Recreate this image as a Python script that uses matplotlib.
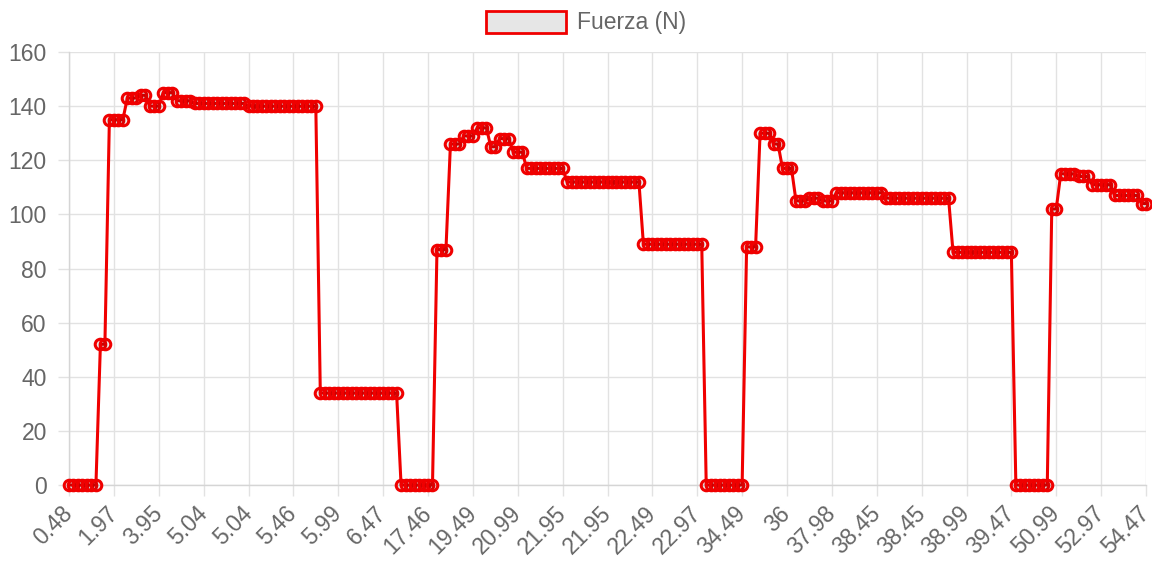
import matplotlib
matplotlib.use("Agg")
import matplotlib.pyplot as plt
from matplotlib.patches import Rectangle
import numpy as np

# Tick labels (time, s) shown every 10 samples along the category axis
tick_labels = ["0.48", "1.97", "3.95", "5.04", "5.04", "5.46", "5.99", "6.47",
               "17.46", "19.49", "20.99", "21.95", "21.95", "22.49", "22.97",
               "34.49", "36", "37.98", "38.45", "38.45", "38.99", "39.47",
               "50.99", "52.97", "54.47"]
label_step = 10

# Force readings (N), stored as held levels and how many samples each lasts
force_levels = [0, 52, 135, 143, 144, 140, 145, 142, 141, 140,
                34, 0,
                87, 126, 129, 132, 125, 128, 123, 117, 112, 89,
                0,
                88, 130, 126, 117, 105, 106, 105, 108, 106, 86,
                0,
                102, 115, 114, 111, 107, 104]
samples_per_level = [7, 2, 4, 3, 2, 3, 3, 4, 12, 16,
                     18, 8,
                     3, 3, 3, 3, 2, 3, 3, 9, 17, 14,
                     9,
                     3, 3, 2, 3, 3, 3, 3, 11, 15, 14,
                     8,
                     2, 4, 3, 5, 6, 2]

fuerza = np.repeat(force_levels, samples_per_level)
idx = np.arange(len(fuerza))

RED = "#f00000"
GRID = "#e2e2e2"
TXT = "#666666"
FS = 16.5

plt.rcParams["font.family"] = ["Liberation Sans", "DejaVu Sans"]

fig = plt.figure(figsize=(11.52, 5.65), dpi=100)
W, H = 1152, 565
left, right, top, bottom = 69, 1146, 52, 485
ax = fig.add_axes([left / W, 1 - bottom / H, (right - left) / W, (bottom - top) / H])

ax.plot(idx, fuerza, color=RED, lw=2.2, marker="o", ms=7.6,
        mfc=(0, 0, 0, 0.08), mec=RED, mew=2.2, zorder=3, clip_on=False)

ax.set_xlim(0, len(fuerza) - 1)
ax.set_ylim(0, 160)
ax.set_yticks(np.arange(0, 161, 20))
tick_pos = np.arange(len(tick_labels)) * label_step
ax.set_xticks(tick_pos)
ax.set_xticklabels(tick_labels, rotation=45, ha="right", va="center",
                   rotation_mode="anchor")

ax.grid(True, color=GRID, lw=1.0)
ax.set_axisbelow(True)
for s in ("top", "right"):
    ax.spines[s].set_visible(False)
for s in ("left", "bottom"):
    ax.spines[s].set_color("#d5d5d5")
    ax.spines[s].set_linewidth(1.0)
ax.tick_params(axis="both", colors=GRID, length=8, width=1.0,
               labelcolor=TXT, labelsize=FS)
ax.tick_params(axis="y", pad=8)
ax.tick_params(axis="x", pad=10)

# Legend: box swatch and series name centred above the plot
box_l, box_t, box_w, box_h = 486, 11, 80, 22
fig.patches.append(Rectangle((box_l / W, 1 - (box_t + box_h) / H), box_w / W, box_h / H,
                             transform=fig.transFigure, facecolor="#e6e6e6",
                             edgecolor=RED, lw=2.0))
fig.text(577 / W, 1 - 22 / H, "Fuerza (N)", color=TXT, fontsize=FS,
         ha="left", va="center")

fig.savefig("out.png", dpi=100)
